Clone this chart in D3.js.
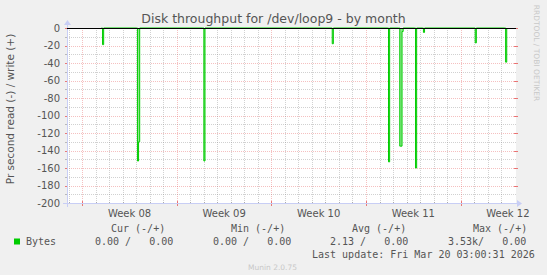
<!DOCTYPE html>
<html><head><meta charset="utf-8">
<script src="https://cdn.jsdelivr.net/npm/d3@7"></script>
<style>
html,body{margin:0;padding:0;background:#f0f0f0;}
svg{display:block;}
text{white-space:pre;}
</style></head>
<body>
<svg id="c" width="547" height="275"></svg>
<script>
// ---- data ----
const title = "Disk throughput for /dev/loop9 - by month";
const yLabel = "Pr second read (-) / write (+)";
const weekLabels = ["Week 08", "Week 09", "Week 10", "Week 11", "Week 12"];
const weekStarts = ["2026-02-16", "2026-02-23", "2026-03-02", "2026-03-09", "2026-03-16"];
const yTicks = [0, -20, -40, -60, -80, -100, -120, -140, -160, -180, -200];
// read series (negative), 2-hour samples counted from Mon 2026-02-16 00:00; zero elsewhere
const readSample = [17, 18, 19, 48, 49, 50, 51, 107, 108, 109, 221, 222, 223, 271, 272, 273, 281, 282, 283, 284, 285, 295, 296, 297, 302, 303, 304, 348, 349, 350, 375, 376, 377];
const readValue  = [0, -19, 0, 0, -152, -130, 0, 0, -152, 0, 0, -18, 0, 0, -153, 0, 0, -135, -135, -4, 0, 0, -160, 0, 0, -5, 0, 0, -17, 0, 0, -39, 0];
const legendHeaders = ["Cur (-/+)", "Min (-/+)", "Avg (-/+)", "Max (-/+)"];
const legendValues = ["0.00 /   0.00", "0.00 /   0.00", "2.13 /   0.00", "3.53k/   0.00"];
const seriesName = "Bytes";
const lastUpdate = "Last update: Fri Mar 20 03:00:31 2026";
const version = "Munin 2.0.75";
const watermark = "RRDTOOL / TOBI OETIKER";

// ---- layout ----
const svg = d3.select("#c");
const X0 = 67, X1 = 513, Y0 = 28, Y1 = 203;
const t0 = new Date(Date.UTC(2026, 1, 14, 20, 52));
const t1 = new Date(Date.UTC(2026, 2, 19, 21, 7));
const x = d3.scaleUtc().domain([t0, t1]).range([X0, X1]);
const y = d3.scaleLinear().domain([-200, 0]).range([Y1, Y0]);
const base = Date.UTC(2026, 1, 16);
const sampleTime = k => new Date(base + k * 2 * 3600 * 1000);

svg.append("rect").attr("width", 547).attr("height", 275).attr("fill", "#f0f0f0");
svg.append("rect").attr("x", X0).attr("y", Y0).attr("width", X1 - X0 + 3).attr("height", Y1 - Y0).attr("fill", "#ffffff");

const minorGrid = "rgba(140,140,140,0.4)", majorGrid = "rgba(230,90,90,0.38)";
// horizontal grid
const yMinor = d3.range(-190, 0, 10);
svg.append("g").selectAll("line").data(yMinor).join("line")
  .attr("x1", X0).attr("x2", X1 + 3).attr("y1", d => Math.round(y(d)) + 0.5).attr("y2", d => Math.round(y(d)) + 0.5)
  .attr("stroke", d => d % 20 === 0 ? majorGrid : minorGrid).attr("stroke-dasharray", "1,1");
// vertical grid (days / weeks)
const days = d3.utcDay.range(t0, t1);
const weekSet = new Set(weekStarts.map(s => +new Date(s + "T00:00:00Z")));
svg.append("g").selectAll("line").data(days).join("line")
  .attr("x1", d => Math.round(x(d)) + 0.5).attr("x2", d => Math.round(x(d)) + 0.5)
  .attr("y1", Y0).attr("y2", Y1)
  .attr("stroke", d => weekSet.has(+d) ? majorGrid : minorGrid).attr("stroke-dasharray", "1,1");
// x ticks on axis
svg.append("g").selectAll("line").data(days).join("line")
  .attr("x1", d => Math.round(x(d)) + 0.5).attr("x2", d => Math.round(x(d)) + 0.5)
  .attr("y1", d => weekSet.has(+d) ? Y1 - 2 : Y1 - 1).attr("y2", d => weekSet.has(+d) ? Y1 + 3 : Y1 + 1)
  .attr("stroke", d => weekSet.has(+d) ? "rgba(230,80,80,0.75)" : "rgba(140,140,140,0.55)");
// y ticks
svg.append("g").selectAll("line").data(d3.range(-200, 1, 10)).join("line")
  .attr("x1", X0 - 2).attr("x2", X0 + 1).attr("y1", d => Math.round(y(d)) + 0.5).attr("y2", d => Math.round(y(d)) + 0.5)
  .attr("stroke", d => d % 20 === 0 ? "rgba(230,80,80,0.75)" : "rgba(140,140,140,0.55)");
svg.append("g").selectAll("line").data(d3.range(-200, 1, 20)).join("line")
  .attr("x1", X1 + 1).attr("x2", X1 + 5).attr("y1", d => Math.round(y(d)) + 0.5).attr("y2", d => Math.round(y(d)) + 0.5)
  .attr("stroke", "rgba(230,80,80,0.75)");

// axes
const axisCol = "#c8cef5";
svg.append("line").attr("x1", X0 - 4).attr("x2", X1 + 5).attr("y1", Y1 + 0.5).attr("y2", Y1 + 0.5).attr("stroke", axisCol);
svg.append("line").attr("x1", X0 + 0.5).attr("x2", X0 + 0.5).attr("y1", Y1 + 4).attr("y2", Y0 - 4).attr("stroke", axisCol);
svg.append("path").attr("d", `M${X1 + 4},${Y1 - 3}L${X1 + 9},${Y1 + 0.5}L${X1 + 4},${Y1 + 4}Z`).attr("fill", axisCol);
svg.append("path").attr("d", `M${X0 - 3},${Y0 - 3}L${X0 + 0.5},${Y0 - 8}L${X0 + 4},${Y0 - 3}Z`).attr("fill", axisCol);

// series
const pts = readSample.map((k, i) => [sampleTime(k), readValue[i]]);
svg.append("path").datum(pts)
  .attr("d", d3.area().curve(d3.curveStepAfter).x(d => x(d[0])).y0(y(0)).y1(d => y(d[1])))
  .attr("fill", "#8fe88f");
svg.append("path").datum(pts)
  .attr("d", d3.line().curve(d3.curveStepAfter).x(d => x(d[0])).y(d => y(d[1])))
  .attr("fill", "none").attr("stroke", "#00cc00").attr("stroke-width", 1);
// zero line
svg.append("line").attr("x1", X0).attr("x2", X1 + 3).attr("y1", y(0) + 0.5).attr("y2", y(0) + 0.5).attr("stroke", "#000");

// y tick labels
svg.append("g").selectAll("text").data(yTicks).join("text")
  .attr("x", 60).attr("y", d => y(d) + 3.5).attr("text-anchor", "end")
  .attr("font-family", "DejaVu Sans").attr("font-size", 10).attr("fill", "#555")
  .text(d => d);
// week labels
svg.append("g").selectAll("text").data(weekLabels).join("text")
  .attr("x", (d, i) => x(d3.utcHour.offset(new Date(weekStarts[i] + "T00:00:00Z"), 84)))
  .attr("y", 217).attr("text-anchor", "middle")
  .attr("font-family", "DejaVu Sans").attr("font-size", 10).attr("fill", "#555")
  .text(d => d);

// title
svg.append("text").attr("x", 273.5).attr("y", 23).attr("text-anchor", "middle")
  .attr("font-family", "DejaVu Sans").attr("font-size", 12.5).attr("fill", "#555").text(title);
// y label
svg.append("text").attr("transform", "translate(14,109) rotate(-90)").attr("text-anchor", "middle")
  .attr("font-family", "DejaVu Sans").attr("font-size", 10.5).attr("fill", "#555").text(yLabel);
// watermark
svg.append("text").attr("transform", "translate(534,53) rotate(90)").attr("text-anchor", "middle")
  .attr("font-family", "DejaVu Sans").attr("font-size", 7.5).attr("fill", "#c8c8c8").text(watermark);

// legend
const mono = "DejaVu Sans Mono";
const hdrX = [111, 231, 352, 473];
const valX = [95, 213, 330, 448];
svg.append("g").selectAll("text").data(legendHeaders).join("text")
  .attr("x", (d, i) => hdrX[i]).attr("y", 232).attr("font-family", mono).attr("font-size", 10).attr("fill", "#555").text(d => d);
svg.append("rect").attr("x", 14).attr("y", 238.5).attr("width", 6).attr("height", 6).attr("fill", "#00cc00");
svg.append("text").attr("x", 26).attr("y", 245).attr("font-family", mono).attr("font-size", 10).attr("fill", "#555").text(seriesName);
svg.append("g").selectAll("text").data(legendValues).join("text")
  .attr("x", (d, i) => valX[i]).attr("y", 245).attr("font-family", mono).attr("font-size", 10).attr("fill", "#555").text(d => d);
svg.append("text").attr("x", 312).attr("y", 257.5).attr("font-family", mono).attr("font-size", 10).attr("fill", "#555").text(lastUpdate);
svg.append("text").attr("x", 272.5).attr("y", 270).attr("text-anchor", "middle").attr("font-family", "DejaVu Sans").attr("font-size", 7.5).attr("fill", "#c8c8c8").text(version);
</script>
</body></html>
